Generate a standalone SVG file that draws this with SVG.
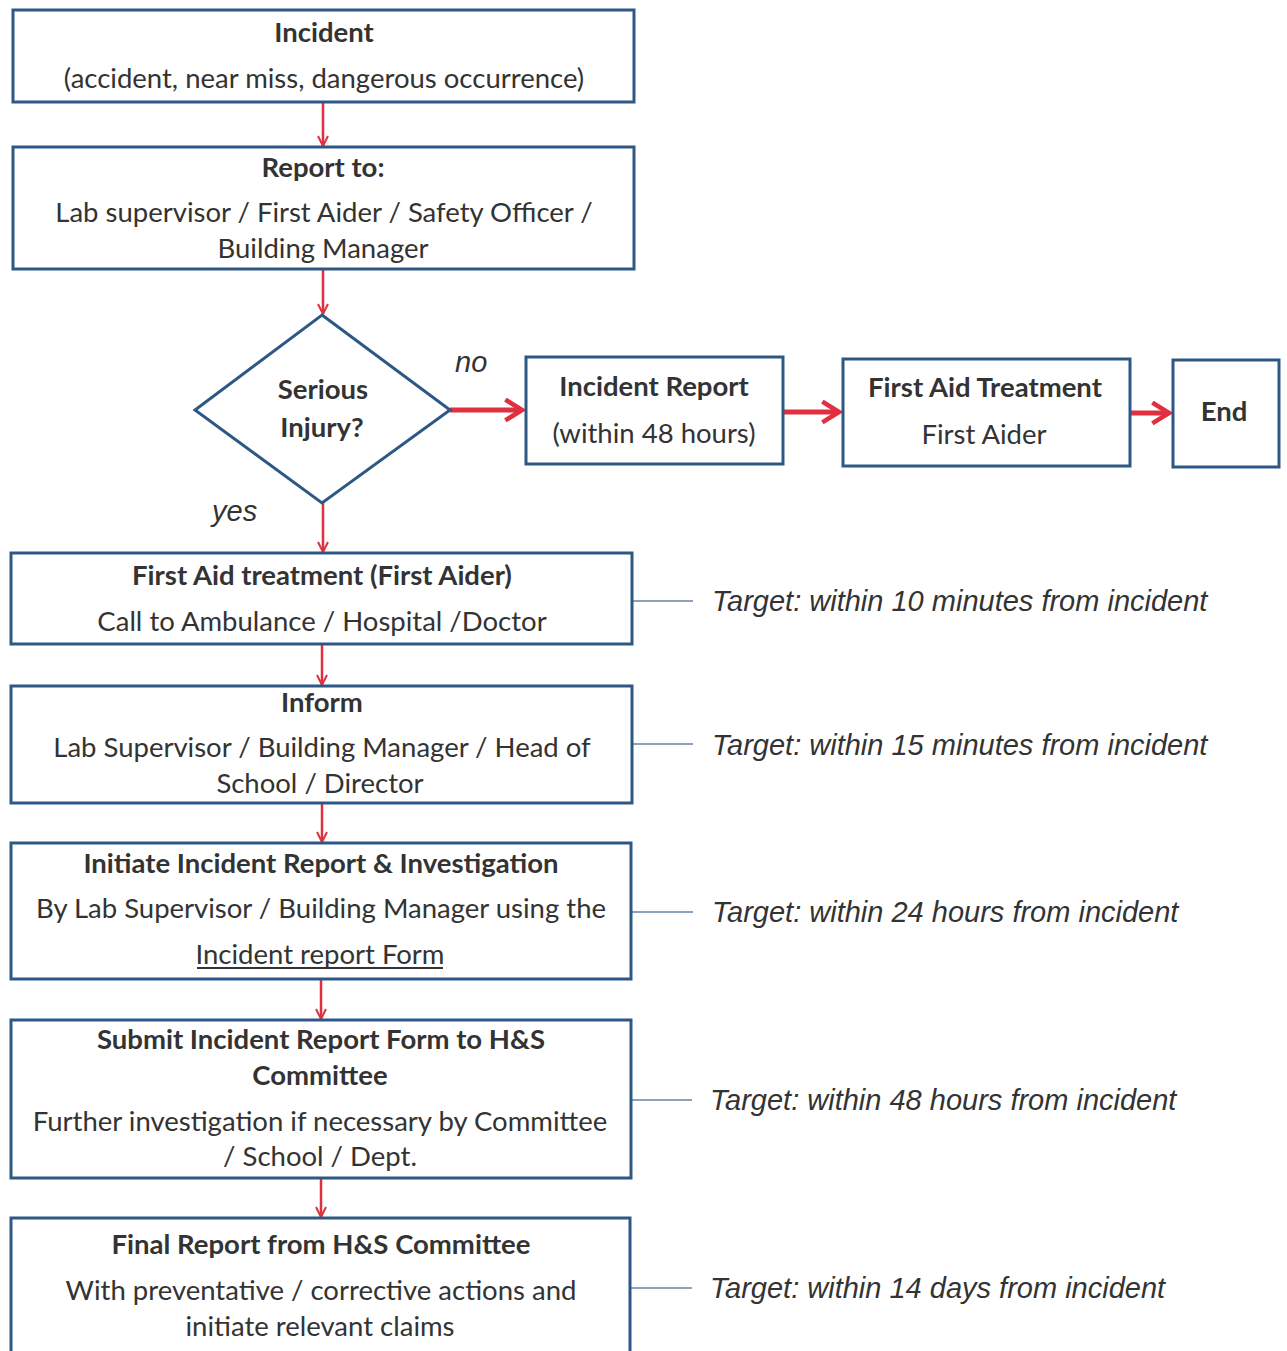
<svg xmlns="http://www.w3.org/2000/svg" width="1287" height="1351" viewBox="0 0 1287 1351">
<style>
.box{fill:#fff;stroke:#2e5884;stroke-width:3}
.t{font-family:Lato,"Open Sans",sans-serif;font-size:27.5px;fill:#333;text-anchor:middle}
.b{font-weight:bold}
.lbl{font-family:"Liberation Sans",Arial,sans-serif;font-style:italic;font-size:29px;fill:#333}
.c{stroke:#e0303f;fill:none;stroke-width:2.5}
.ch{stroke:#e0303f;fill:none;stroke-width:5}
.tl{stroke:#8aa2bb;stroke-width:2;fill:none}
</style>
<defs>
<marker id="v" viewBox="0 0 12 12" refX="11" refY="6" markerWidth="12" markerHeight="12" markerUnits="userSpaceOnUse" orient="auto">
<path d="M1,1 L11,6 L1,11" fill="none" stroke="#e0303f" stroke-width="2"/>
</marker>
<marker id="vh" viewBox="0 0 12 12" refX="10" refY="6" markerWidth="5" markerHeight="5" orient="auto">
<path d="M2,1 L10,6 L2,11" fill="none" stroke="#e0303f" stroke-width="2.2"/>
</marker>
</defs>
<rect width="1287" height="1351" fill="#fff"/>
<g id="connectors">
<line class="c" x1="323" y1="102" x2="323" y2="146" marker-end="url(#v)"/>
<line class="c" x1="323" y1="269" x2="323" y2="314" marker-end="url(#v)"/>
<line class="c" x1="323" y1="503" x2="323" y2="552" marker-end="url(#v)"/>
<line class="c" x1="322" y1="644" x2="322" y2="685" marker-end="url(#v)"/>
<line class="c" x1="322" y1="803" x2="322" y2="842" marker-end="url(#v)"/>
<line class="c" x1="321" y1="979" x2="321" y2="1019" marker-end="url(#v)"/>
<line class="c" x1="321" y1="1178" x2="321" y2="1217" marker-end="url(#v)"/>
<line class="ch" x1="450" y1="410" x2="522" y2="410" marker-end="url(#vh)"/>
<line class="ch" x1="783" y1="412" x2="839" y2="412" marker-end="url(#vh)"/>
<line class="ch" x1="1130" y1="413" x2="1169" y2="413" marker-end="url(#vh)"/>
<line class="tl" x1="632" y1="601" x2="693" y2="601"/>
<line class="tl" x1="632" y1="744" x2="693" y2="744"/>
<line class="tl" x1="631" y1="912" x2="693" y2="912"/>
<line class="tl" x1="631" y1="1100" x2="692" y2="1100"/>
<line class="tl" x1="630" y1="1288" x2="692" y2="1288"/>
<text class="lbl" x="455" y="372">no</text>
<text class="lbl" x="212" y="521">yes</text>
</g>
<g id="incident">
<rect class="box" x="13" y="10" width="621" height="92"/>
<text class="t b" x="324" y="42">Incident</text>
<text class="t" x="324" y="88">(accident, near miss, dangerous occurrence)</text>
</g>
<g id="report-to">
<rect class="box" x="13" y="147" width="621" height="122"/>
<text class="t b" x="323" y="177">Report to:</text>
<text class="t" x="324" y="222">Lab supervisor / First Aider / Safety Officer /</text>
<text class="t" x="323" y="258">Building Manager</text>
</g>
<g id="serious-injury">
<polygon class="box" points="322,315 450,410 322,503 195,410"/>
<text class="t b" x="323" y="399">Serious</text>
<text class="t b" x="322" y="437">Injury?</text>
</g>
<g id="incident-report">
<rect class="box" x="526" y="357" width="257" height="107"/>
<text class="t b" x="654" y="396">Incident Report</text>
<text class="t" x="654" y="443">(within 48 hours)</text>
</g>
<g id="first-aid-treatment-minor">
<rect class="box" x="843" y="359" width="287" height="107"/>
<text class="t b" x="985" y="397">First Aid Treatment</text>
<text class="t" x="984" y="444">First Aider</text>
</g>
<g id="end">
<rect class="box" x="1173" y="360" width="106" height="107"/>
<text class="t b" x="1224" y="421">End</text>
</g>
<g id="first-aid-serious">
<rect class="box" x="11" y="553" width="621" height="91"/>
<text class="t b" x="322" y="585">First Aid treatment (First Aider)</text>
<text class="t" x="322" y="631">Call to Ambulance / Hospital  /Doctor</text>
<text class="lbl" x="712" y="611">Target: within 10 minutes from incident</text>
</g>
<g id="inform">
<rect class="box" x="11" y="686" width="621" height="117"/>
<text class="t b" x="322" y="712">Inform</text>
<text class="t" x="322" y="757">Lab Supervisor / Building Manager / Head of</text>
<text class="t" x="320" y="793">School / Director</text>
<text class="lbl" x="712" y="755">Target: within 15 minutes from incident</text>
</g>
<g id="initiate">
<rect class="box" x="11" y="843" width="620" height="136"/>
<text class="t b" x="321" y="873">Initiate Incident Report &amp; Investigation</text>
<text class="t" x="321" y="918">By Lab Supervisor / Building Manager using the</text>
<text class="t" x="320" y="964">Incident report Form</text>
<line x1="197" y1="968" x2="443" y2="968" stroke="#333" stroke-width="2"/>
<text class="lbl" x="712" y="922">Target: within 24 hours from incident</text>
</g>
<g id="submit">
<rect class="box" x="11" y="1020" width="620" height="158"/>
<text class="t b" x="321" y="1049">Submit Incident Report Form to H&amp;S</text>
<text class="t b" x="320" y="1085">Committee</text>
<text class="t" x="320" y="1131">Further investigation if necessary by Committee</text>
<text class="t" x="320" y="1166">/ School / Dept.</text>
<text class="lbl" x="710" y="1110">Target: within 48 hours from incident</text>
</g>
<g id="final">
<rect class="box" x="11" y="1218" width="619" height="140"/>
<text class="t b" x="321" y="1254">Final Report from H&amp;S Committee</text>
<text class="t" x="321" y="1300">With preventative / corrective actions and</text>
<text class="t" x="320" y="1336">initiate relevant claims</text>
<text class="lbl" x="710" y="1298">Target: within 14 days from incident</text>
</g>
</svg>
